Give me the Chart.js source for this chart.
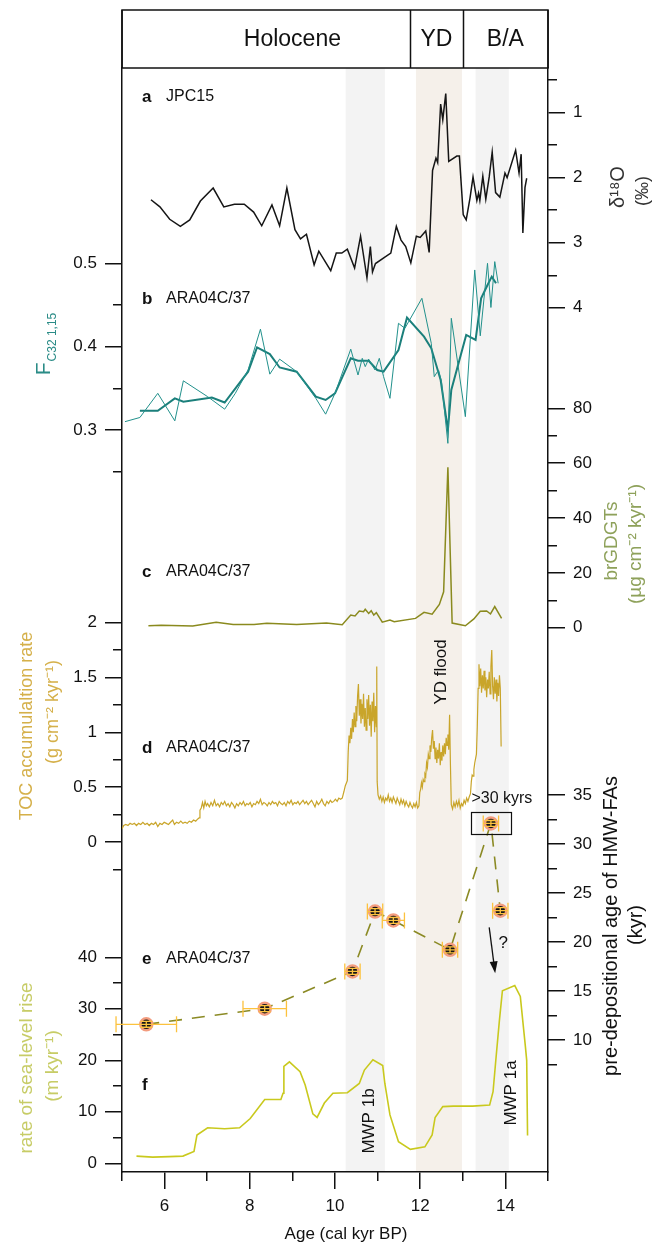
<!DOCTYPE html>
<html>
<head>
<meta charset="utf-8">
<title>ARA04C/37 deglacial records</title>
<script src="https://cdn.jsdelivr.net/npm/chart.js@4.4.1/dist/chart.umd.min.js"></script>
<style>
  html, body { margin: 0; padding: 0; background: #fff; }
  #wrap { width: 665px; height: 1245px; }
</style>
</head>
<body>
<div id="wrap"><canvas id="records" width="665" height="1245"></canvas></div>
<script>
// ---- data: [age (cal kyr BP), value] ----

// a: JPC15 d18O (permil)
const jpcD18O = [
  [5.68, 2.34], [5.89, 2.45], [6.12, 2.64], [6.37, 2.75], [6.59, 2.65], [6.84, 2.36],
  [7.14, 2.16], [7.39, 2.45], [7.64, 2.41], [7.87, 2.41], [8.09, 2.53], [8.28, 2.74],
  [8.52, 2.42], [8.70, 2.74], [8.87, 2.16], [9.06, 2.80], [9.19, 2.94], [9.33, 2.87],
  [9.51, 3.34], [9.62, 3.13], [9.90, 3.43], [10.03, 3.16], [10.16, 3.16], [10.29, 3.10],
  [10.46, 3.39], [10.60, 2.90], [10.75, 3.54], [10.83, 3.06], [10.88, 3.45], [10.95, 3.32],
  [11.17, 3.22], [11.31, 3.16], [11.44, 2.75], [11.55, 2.96], [11.66, 3.06], [11.78, 3.31],
  [11.91, 2.90], [12.00, 2.92], [12.13, 2.82], [12.21, 3.15], [12.29, 1.89], [12.37, 1.70],
  [12.41, 1.77], [12.48, 0.87], [12.53, 1.11], [12.60, 0.71], [12.67, 1.75], [12.86, 1.67],
  [12.92, 1.67], [13.01, 2.57], [13.08, 2.65], [13.17, 2.31], [13.24, 1.99], [13.33, 2.35],
  [13.37, 2.24], [13.40, 2.35], [13.47, 1.98], [13.54, 2.33], [13.62, 1.99], [13.69, 1.61],
  [13.77, 2.23], [13.87, 2.30], [13.99, 1.93], [14.04, 2.00], [14.24, 1.58], [14.32, 1.93],
  [14.37, 1.64], [14.41, 2.85], [14.46, 2.15], [14.50, 2.01]
];

// b: F C32 1,15, single samples and running mean
const fRaw = [
  [5.07, 0.310], [5.42, 0.315], [5.84, 0.344], [6.24, 0.311], [6.44, 0.359], [7.01, 0.340],
  [7.41, 0.325], [7.66, 0.344], [7.96, 0.372], [8.25, 0.421], [8.47, 0.367], [8.70, 0.385],
  [9.10, 0.370], [9.55, 0.338], [9.78, 0.319], [10.00, 0.344], [10.37, 0.397], [10.54, 0.366],
  [10.64, 0.386], [10.71, 0.376], [10.79, 0.385], [10.87, 0.378], [10.94, 0.372], [11.04, 0.386],
  [11.14, 0.364], [11.29, 0.338], [11.49, 0.428], [11.64, 0.422], [12.04, 0.458], [12.26, 0.404],
  [12.33, 0.364], [12.43, 0.372], [12.50, 0.358], [12.65, 0.284], [12.73, 0.434], [13.06, 0.316],
  [13.28, 0.492], [13.41, 0.413], [13.58, 0.500], [13.66, 0.447], [13.75, 0.502], [13.83, 0.476]
];
const fMean = [
  [5.42, 0.323], [5.84, 0.323], [6.24, 0.338], [6.44, 0.334], [7.11, 0.339], [7.41, 0.333],
  [7.96, 0.370], [8.17, 0.399], [8.47, 0.391], [8.70, 0.375], [9.10, 0.370], [9.55, 0.340],
  [9.78, 0.336], [10.00, 0.344], [10.37, 0.386], [10.54, 0.383], [10.79, 0.383], [10.99, 0.372],
  [11.14, 0.370], [11.49, 0.396], [11.69, 0.435], [12.09, 0.412], [12.26, 0.398], [12.48, 0.360],
  [12.65, 0.300], [12.73, 0.348], [13.08, 0.414], [13.30, 0.408], [13.43, 0.458], [13.58, 0.474],
  [13.68, 0.484], [13.78, 0.476]
];

// c: brGDGT accumulation (ug cm-2 kyr-1)
const brFlux = [
  [5.62, 0.7], [5.92, 0.9], [6.66, 0.6], [7.21, 2.0], [7.61, 1.2], [8.10, 1.2], [8.40, 1.6],
  [9.10, 1.2], [9.80, 1.7], [10.17, 1.1], [10.37, 4.6], [10.47, 4.3], [10.57, 6.1], [10.67, 5.8],
  [10.71, 6.7], [10.79, 5.2], [10.85, 6.2], [10.91, 4.6], [10.97, 5.5], [11.11, 2.0], [11.29, 2.8],
  [11.39, 2.2], [11.89, 3.4], [12.09, 5.6], [12.28, 4.9], [12.45, 8.5], [12.55, 13.1], [12.65, 58.5],
  [12.75, 1.7], [13.06, 0.7], [13.26, 3.2], [13.41, 6.0], [13.56, 6.1], [13.65, 5.0], [13.75, 7.7],
  [13.91, 3.4]
];

// d: TOC accumulation rate (g cm-2 kyr-1)
const tocRate = [
  [5.00, 0.12], [5.04, 0.15], [5.09, 0.16], [5.14, 0.15], [5.19, 0.17], [5.24, 0.16], [5.29, 0.17],
  [5.34, 0.15], [5.39, 0.17], [5.44, 0.16], [5.49, 0.18], [5.54, 0.16], [5.59, 0.17], [5.64, 0.15],
  [5.69, 0.17], [5.74, 0.16], [5.79, 0.18], [5.84, 0.14], [5.89, 0.17], [5.94, 0.16], [5.99, 0.18],
  [6.04, 0.17], [6.09, 0.16], [6.14, 0.18], [6.19, 0.20], [6.23, 0.16], [6.28, 0.18], [6.33, 0.17],
  [6.38, 0.19], [6.43, 0.17], [6.48, 0.18], [6.53, 0.17], [6.58, 0.19], [6.63, 0.18], [6.68, 0.20],
  [6.73, 0.19], [6.78, 0.21], [6.81, 0.22], [6.83, 0.29], [6.86, 0.31], [6.89, 0.36], [6.92, 0.31],
  [6.95, 0.37], [6.98, 0.33], [7.01, 0.35], [7.05, 0.32], [7.09, 0.36], [7.13, 0.33], [7.17, 0.38],
  [7.21, 0.33], [7.25, 0.35], [7.29, 0.32], [7.33, 0.36], [7.37, 0.34], [7.41, 0.37], [7.45, 0.33],
  [7.49, 0.35], [7.53, 0.32], [7.57, 0.36], [7.61, 0.34], [7.65, 0.31], [7.69, 0.35], [7.73, 0.33],
  [7.77, 0.36], [7.81, 0.34], [7.85, 0.37], [7.89, 0.33], [7.93, 0.35], [7.97, 0.34], [8.01, 0.36],
  [8.05, 0.32], [8.09, 0.35], [8.13, 0.34], [8.17, 0.37], [8.21, 0.35], [8.25, 0.39], [8.29, 0.34],
  [8.33, 0.36], [8.37, 0.35], [8.41, 0.33], [8.45, 0.36], [8.49, 0.34], [8.53, 0.37], [8.57, 0.35],
  [8.61, 0.36], [8.65, 0.33], [8.69, 0.37], [8.73, 0.35], [8.77, 0.34], [8.81, 0.36], [8.85, 0.33],
  [8.89, 0.37], [8.93, 0.35], [8.97, 0.38], [9.01, 0.34], [9.05, 0.36], [9.09, 0.35], [9.13, 0.37],
  [9.17, 0.34], [9.21, 0.36], [9.25, 0.38], [9.29, 0.35], [9.33, 0.37], [9.37, 0.34], [9.41, 0.36],
  [9.45, 0.38], [9.49, 0.35], [9.53, 0.32], [9.57, 0.37], [9.61, 0.34], [9.65, 0.36], [9.69, 0.39],
  [9.73, 0.35], [9.77, 0.33], [9.81, 0.37], [9.85, 0.35], [9.89, 0.38], [9.93, 0.36], [9.97, 0.37],
  [10.01, 0.39], [10.05, 0.37], [10.09, 0.40], [10.13, 0.39], [10.17, 0.40], [10.21, 0.46],
  [10.24, 0.51], [10.27, 0.54], [10.29, 0.56], [10.31, 0.82], [10.33, 0.97], [10.35, 0.90],
  [10.37, 1.04], [10.39, 0.94], [10.41, 1.12], [10.43, 1.00], [10.45, 1.18], [10.47, 1.05],
  [10.49, 1.24], [10.51, 1.10], [10.53, 1.33], [10.55, 1.44], [10.57, 1.15], [10.59, 1.30],
  [10.61, 1.08], [10.63, 1.26], [10.65, 1.12], [10.67, 1.35], [10.69, 1.05], [10.71, 1.22],
  [10.73, 1.02], [10.75, 1.30], [10.77, 1.12], [10.79, 1.34], [10.81, 1.06], [10.83, 1.25],
  [10.85, 0.96], [10.87, 1.28], [10.89, 1.10], [10.91, 1.36], [10.93, 1.00], [10.95, 1.24],
  [10.97, 1.05], [10.98, 1.60], [10.99, 0.55], [11.01, 0.43], [11.04, 0.39], [11.07, 0.42],
  [11.10, 0.37], [11.13, 0.41], [11.16, 0.36], [11.19, 0.40], [11.22, 0.38], [11.25, 0.43],
  [11.28, 0.37], [11.31, 0.40], [11.34, 0.36], [11.37, 0.41], [11.40, 0.38], [11.43, 0.35],
  [11.46, 0.40], [11.49, 0.37], [11.52, 0.34], [11.55, 0.39], [11.58, 0.35], [11.61, 0.38],
  [11.64, 0.33], [11.67, 0.37], [11.70, 0.34], [11.73, 0.32], [11.76, 0.36], [11.79, 0.33],
  [11.82, 0.31], [11.85, 0.35], [11.88, 0.32], [11.91, 0.36], [11.94, 0.31], [11.97, 0.33],
  [11.99, 0.45], [12.01, 0.48], [12.03, 0.54], [12.05, 0.50], [12.07, 0.57], [12.09, 0.55],
  [12.11, 0.62], [12.13, 0.60], [12.15, 0.72], [12.17, 0.68], [12.19, 0.80], [12.21, 0.76],
  [12.23, 0.88], [12.25, 0.82], [12.27, 0.95], [12.29, 1.02], [12.31, 0.85], [12.33, 0.92],
  [12.35, 0.76], [12.37, 0.86], [12.39, 0.72], [12.41, 0.84], [12.43, 0.76], [12.45, 0.90],
  [12.47, 0.70], [12.49, 0.82], [12.51, 0.74], [12.53, 0.88], [12.55, 0.78], [12.57, 0.90],
  [12.59, 0.80], [12.61, 0.95], [12.63, 0.88], [12.65, 0.98], [12.67, 0.84], [12.69, 1.16],
  [12.71, 0.70], [12.73, 0.34], [12.76, 0.30], [12.79, 0.36], [12.82, 0.32], [12.85, 0.37],
  [12.88, 0.33], [12.91, 0.38], [12.94, 0.31], [12.97, 0.35], [13.00, 0.33], [13.03, 0.38],
  [13.06, 0.35], [13.09, 0.40], [13.12, 0.37], [13.15, 0.41], [13.18, 0.44], [13.20, 0.55],
  [13.22, 0.61], [13.24, 0.60], [13.26, 0.66], [13.28, 0.72], [13.30, 0.76], [13.32, 0.80],
  [13.34, 1.05], [13.36, 1.40], [13.38, 1.62], [13.40, 1.42], [13.42, 1.58], [13.44, 1.36],
  [13.46, 1.52], [13.48, 1.40], [13.50, 1.56], [13.52, 1.38], [13.54, 1.50], [13.56, 1.32],
  [13.58, 1.48], [13.60, 1.40], [13.62, 1.55], [13.64, 1.35], [13.66, 1.60], [13.68, 1.75],
  [13.70, 1.42], [13.72, 1.30], [13.74, 1.50], [13.76, 1.35], [13.78, 1.48], [13.80, 1.28],
  [13.82, 1.45], [13.84, 1.33], [13.86, 1.52], [13.88, 1.40], [13.90, 0.87]
];

// e: pre-depositional age of HMW-FAs (kyr) with 1-sigma errors
const faAge    = [5.57, 8.35, 10.41, 10.94, 11.37, 12.70, 13.66, 13.88];
const faAgeErr = [0.71, 0.51, 0.18, 0.18, 0.26, 0.18, 0.18, 0.18];
const faPreAge = [11.6, 13.2, 17.0, 23.1, 22.2, 19.2, 32.1, 23.2];
const faPreErr = [0.3, 0.3, 0.3, 0.3, 0.3, 0.3, 0.3, 0.3];
const faBoxed  = 6;   // sample shown as >30 kyrs

// f: rate of sea-level rise (m kyr-1)
const seaLevel = [
  [5.34, 1.4], [5.72, 1.2], [6.11, 1.3], [6.43, 1.4], [6.69, 2.3], [6.76, 5.5], [7.01, 6.9],
  [7.41, 6.7], [7.76, 6.9], [8.01, 8.7], [8.35, 12.4], [8.73, 12.4], [8.78, 13.6], [8.80, 18.8],
  [8.93, 19.7], [9.18, 17.8], [9.30, 15.2], [9.48, 9.6], [9.58, 8.9], [9.75, 11.7], [9.95, 13.6],
  [10.29, 13.7], [10.57, 15.5], [10.69, 18.1], [10.89, 20.1], [11.12, 19.0], [11.17, 15.5],
  [11.29, 9.4], [11.49, 4.2], [11.77, 2.7], [12.11, 3.2], [12.28, 5.5], [12.35, 8.9], [12.53, 11.0],
  [12.78, 11.1], [13.23, 11.1], [13.63, 11.3], [13.71, 13.9], [13.78, 20.5], [13.86, 27.8],
  [13.93, 33.5], [14.22, 34.5], [14.35, 32.4], [14.47, 22.6], [14.50, 20.0], [14.52, 5.4]
];

// time frame
const periods     = ['Holocene', 'YD', 'B/A'];
const periodEdges = [11.76, 13.0];
const periodMid   = [9.0, 12.38, 14.0];
const bandFrom    = [10.25, 11.9, 13.3];
const bandTo      = [11.17, 12.98, 14.08];
const bandKind    = ['grey', 'yd', 'grey'];

// tick values per axis
const xMajor = [6, 8, 10, 12, 14];
const xMinor = [5, 7, 9, 11, 13, 15];
const aMajor = [1, 2, 3, 4],            aMinor = [0.5, 1.5, 2.5, 3.5];
const bMajor = [0.3, 0.4, 0.5],         bMinor = [0.25, 0.35, 0.45];
const cMajor = [0, 20, 40, 60, 80],     cMinor = [10, 30, 50, 70];
const dMajor = [0, 0.5, 1, 1.5, 2],     dMinor = [-0.25, 0.25, 0.75, 1.25, 1.75];
const eMajor = [10, 15, 20, 25, 30, 35], eMinor = [7.5, 12.5, 17.5, 22.5, 27.5, 32.5];
const fMajor = [0, 10, 20, 30, 40],     fMinor = [5, 15, 25, 35];

// ---- layout ----
const FONT = "'Liberation Sans', Arial, Helvetica, sans-serif";
Chart.defaults.font.family = FONT;
Chart.defaults.color = '#111';

const AREA = { left: 122, right: 548, top: 68, bottom: 1172 };
const INK = '#111';

// every panel shares the full plot height; each axis is pinned by two value/pixel pairs
function pin(v1, p1, v2, p2) {
  const k = (p2 - p1) / (v2 - v1);
  const atTop = v1 + (AREA.top - p1) / k;
  const atBottom = v1 + (AREA.bottom - p1) / k;
  return { min: Math.min(atTop, atBottom), max: Math.max(atTop, atBottom), reverse: atTop < atBottom };
}

function yAxis(side, range, values, labelled, withBorder) {
  return {
    type: 'linear', axis: 'y', position: side, bounds: 'data',
    min: range.min, max: range.max, reverse: range.reverse,
    afterBuildTicks: s => { s.ticks = values.map(v => ({ value: v })); },
    afterFit: s => { s.width = 0; },
    grid: { drawOnChartArea: false, tickLength: labelled ? 17 : 9, color: INK, lineWidth: 1.5 },
    border: { display: withBorder, color: INK, width: 1.5 },
    ticks: { display: labelled, autoSkip: false, padding: 8, color: INK, font: { size: 17 }, callback: v => String(v) }
  };
}

function xAxis(values, labelled, height, weight) {
  return {
    type: 'linear', axis: 'x', position: 'bottom', bounds: 'data', min: 5, max: 15, weight,
    afterBuildTicks: s => { s.ticks = values.map(v => ({ value: v })); },
    afterFit: s => { s.height = height; },
    grid: { drawOnChartArea: false, tickLength: labelled ? 17 : 9, color: INK, lineWidth: 1.5 },
    border: { display: labelled, color: INK, width: 1.5 },
    ticks: { display: labelled, autoSkip: false, maxRotation: 0, padding: 7, color: INK, font: { size: 17 }, callback: v => String(v) }
  };
}

const rangeA = pin(1, 112.5, 3, 242.7);
const rangeB = pin(0.5, 263.3, 0.3, 430);
const rangeC = pin(0, 627.7, 80, 408.3);
const rangeD = pin(0, 842, 2, 622.5);
const rangeE = pin(10, 1040, 35, 795);
const rangeF = pin(0, 1163.3, 40, 957.3);

const asPoints = rows => rows.map(([x, y]) => ({ x, y }));
const line = (rows, axis, color, width, extra) => Object.assign({
  data: asPoints(rows), xAxisID: 'x', yAxisID: axis, borderColor: color, borderWidth: width,
  pointRadius: 0, tension: 0, fill: false
}, extra || {});

const faPoints = faAge.map((x, i) => [x, faPreAge[i]]);

// ---- drawing helpers ----
function turned(ctx, text, x, y, size, color) {
  ctx.save();
  ctx.translate(x, y);
  ctx.rotate(-Math.PI / 2);
  ctx.font = size + 'px ' + FONT;
  ctx.fillStyle = color;
  ctx.textAlign = 'center';
  ctx.textBaseline = 'middle';
  ctx.fillText(text, 0, 0);
  ctx.restore();
}

function flat(ctx, text, x, y, font, color, align) {
  ctx.font = font;
  ctx.fillStyle = color || INK;
  ctx.textAlign = align || 'left';
  ctx.textBaseline = 'middle';
  ctx.fillText(text, x, y);
}

// zero-width y axes are stacked on the spines; widen their boxes so tick labels are not clipped
const axisBoxes = {
  id: 'axisBoxes',
  afterLayout(chart) {
    const ca = chart.chartArea;
    Object.values(chart.scales).forEach(s => {
      if (s.options.position === 'left') { s.left = 0; s.right = ca.left; }
      if (s.options.position === 'right') { s.left = ca.right; s.right = chart.width; }
    });
  }
};

const backdrop = {
  id: 'backdrop',
  beforeDraw(chart) {
    const { ctx, chartArea: ca, scales: { x } } = chart;
    ctx.save();
    ctx.fillStyle = '#fff';
    ctx.fillRect(0, 0, chart.width, chart.height);
    bandFrom.forEach((from, i) => {
      const x0 = x.getPixelForValue(from), x1 = x.getPixelForValue(bandTo[i]);
      ctx.fillStyle = bandKind[i] === 'yd' ? '#f5f0ea' : '#f3f3f3';
      ctx.fillRect(x0, ca.top, x1 - x0, ca.bottom - ca.top);
    });
    ctx.restore();
  }
};

const errorBars = {
  id: 'errorBars',
  afterDatasetsDraw(chart) {
    const { ctx, scales: { x, e } } = chart;
    ctx.save();
    ctx.strokeStyle = '#fcc23e';
    ctx.lineWidth = 1.3;
    faAge.forEach((age, i) => {
      const px = x.getPixelForValue(age), py = e.getPixelForValue(faPreAge[i]);
      const xl = x.getPixelForValue(age - faAgeErr[i]), xr = x.getPixelForValue(age + faAgeErr[i]);
      const yt = e.getPixelForValue(faPreAge[i] + faPreErr[i]), yb = e.getPixelForValue(faPreAge[i] - faPreErr[i]);
      ctx.beginPath();
      ctx.moveTo(xl, py); ctx.lineTo(xr, py);
      ctx.moveTo(xl, py - 8); ctx.lineTo(xl, py + 8);
      ctx.moveTo(xr, py - 8); ctx.lineTo(xr, py + 8);
      ctx.moveTo(px, yt); ctx.lineTo(px, yb);
      ctx.moveTo(px - 6, yt); ctx.lineTo(px + 6, yt);
      ctx.moveTo(px - 6, yb); ctx.lineTo(px + 6, yb);
      ctx.stroke();
    });
    ctx.restore();
  }
};

const annotations = {
  id: 'annotations',
  afterDraw(chart) {
    const { ctx, chartArea: ca, scales: { x, e } } = chart;
    ctx.save();

    // period header
    ctx.strokeStyle = INK;
    ctx.lineWidth = 1.5;
    ctx.strokeRect(ca.left, 10, ca.right - ca.left, ca.top - 10);
    ctx.beginPath();
    periodEdges.forEach(edge => {
      const px = Math.round(x.getPixelForValue(edge)) + 0.5;
      ctx.moveTo(px, 10); ctx.lineTo(px, ca.top);
    });
    ctx.stroke();
    periods.forEach((name, i) => {
      flat(ctx, name, x.getPixelForValue(periodMid[i]), 40, '23px ' + FONT, INK, 'center');
    });

    // panel tags
    const tags = [['a', 'JPC15', 97], ['b', 'ARA04C/37', 299], ['c', 'ARA04C/37', 572],
                  ['d', 'ARA04C/37', 748], ['e', 'ARA04C/37', 959], ['f', '', 1085]];
    tags.forEach(([letter, core, y]) => {
      flat(ctx, letter, 142, y, 'bold 17px ' + FONT);
      if (core) flat(ctx, core, 166, y, '16px ' + FONT);
    });

    // left axis titles
    ctx.save();
    ctx.translate(42, 344);
    ctx.rotate(-Math.PI / 2);
    ctx.fillStyle = '#2b8c87';
    ctx.textBaseline = 'alphabetic';
    ctx.textAlign = 'left';
    ctx.font = '21px ' + FONT;
    const wF = ctx.measureText('F').width;
    ctx.font = '12px ' + FONT;
    const wSub = ctx.measureText('C32 1,15').width;
    const start = -(wF + 1 + wSub) / 2;
    ctx.font = '21px ' + FONT;
    ctx.fillText('F', start, 8);
    ctx.font = '12px ' + FONT;
    ctx.fillText('C32 1,15', start + wF + 1, 14);
    ctx.restore();

    turned(ctx, 'TOC accumulaltion rate', 27, 726, 18, '#d5b04a');
    turned(ctx, '(g cm\u207B\u00B2 kyr\u207B\u00B9)', 53, 712, 18, '#d5b04a');
    turned(ctx, 'rate of sea-level rise', 27, 1068, 19, '#c7cc66');
    turned(ctx, '(m kyr\u207B\u00B9)', 53, 1066, 19, '#c7cc66');

    // right axis titles
    turned(ctx, '\u03B4\u00B9\u2078O', 618, 187, 20, '#333');
    turned(ctx, '(\u2030)', 643, 191, 18, '#333');
    turned(ctx, 'brGDGTs', 612, 541, 19, '#8ea15a');
    turned(ctx, '(\u00B5g cm\u207B\u00B2 kyr\u207B\u00B9)', 636, 544, 19, '#8ea15a');
    turned(ctx, 'pre-depositional age of HMW-FAs', 611, 926, 20, INK);
    turned(ctx, '(kyr)', 636, 925, 20, INK);

    // event labels inside the bands
    turned(ctx, 'YD flood', 441, 672, 17, INK);
    turned(ctx, 'MWP 1b', 369, 1121, 17, INK);
    turned(ctx, 'MWP 1a', 511, 1093, 17, INK);

    // >30 kyr sample box
    const bx = x.getPixelForValue(faAge[faBoxed]), by = e.getPixelForValue(faPreAge[faBoxed]);
    ctx.strokeStyle = INK;
    ctx.lineWidth = 1.2;
    ctx.strokeRect(Math.round(bx - 20) + 0.5, Math.round(by - 11) + 0.5, 40, 22);
    flat(ctx, '>30 kyrs', bx + 11, by - 25, '16px ' + FONT, INK, 'center');

    // arrow towards the older MWP 1a sample
    const ax0 = x.getPixelForValue(13.62), ay0 = e.getPixelForValue(21.5);
    const ax1 = x.getPixelForValue(13.76), ay1 = e.getPixelForValue(16.8);
    const ang = Math.atan2(ay1 - ay0, ax1 - ax0);
    ctx.fillStyle = INK;
    ctx.lineWidth = 1.3;
    ctx.beginPath();
    ctx.moveTo(ax0, ay0);
    ctx.lineTo(ax1 - 9 * Math.cos(ang), ay1 - 9 * Math.sin(ang));
    ctx.stroke();
    ctx.beginPath();
    ctx.moveTo(ax1, ay1);
    ctx.lineTo(ax1 - 12 * Math.cos(ang) + 4 * Math.sin(ang), ay1 - 12 * Math.sin(ang) - 4 * Math.cos(ang));
    ctx.lineTo(ax1 - 12 * Math.cos(ang) - 4 * Math.sin(ang), ay1 - 12 * Math.sin(ang) + 4 * Math.cos(ang));
    ctx.closePath();
    ctx.fill();
    flat(ctx, '?', x.getPixelForValue(13.95), e.getPixelForValue(19.9), '17px ' + FONT, INK, 'center');

    // x axis title
    flat(ctx, 'Age (cal kyr BP)', 346, 1234, '17px ' + FONT, INK, 'center');

    // left and right spines run up through the header
    ctx.beginPath();
    ctx.lineWidth = 1.5;
    ctx.moveTo(ca.left, 10); ctx.lineTo(ca.left, ca.top);
    ctx.moveTo(ca.right, 10); ctx.lineTo(ca.right, ca.top);
    ctx.stroke();
    ctx.restore();
  }
};

new Chart(document.getElementById('records'), {
  type: 'line',
  data: {
    datasets: [
      line(faPoints, 'e', 'transparent', 0, {
        showLine: false, pointRadius: 6, pointBackgroundColor: '#161616',
        pointBorderColor: '#f39c7e', pointBorderWidth: 2.5, order: 0
      }),
      line(faPoints, 'e', '#8b8a24', 1.6, { borderDash: [13, 10], order: 1 }),
      line(jpcD18O, 'a', '#151515', 1.5, { order: 2 }),
      line(fRaw, 'b', '#22918c', 1, { order: 3 }),
      line(fMean, 'b', '#1b7f7b', 2, { order: 3 }),
      line(brFlux, 'c', '#8a8a1e', 1.5, { order: 4 }),
      line(tocRate, 'd', '#c9a52a', 1.2, { order: 4 }),
      line(seaLevel, 'f', '#c9c91d', 1.6, { order: 4 })
    ]
  },
  options: {
    responsive: false,
    maintainAspectRatio: false,
    devicePixelRatio: 1,
    animation: false,
    events: [],
    layout: { padding: { left: AREA.left, right: 665 - AREA.right, top: AREA.top, bottom: 0 } },
    plugins: { legend: { display: false }, tooltip: { enabled: false }, title: { display: false } },
    scales: {
      xm: xAxis(xMinor, false, 0, 0),
      x: xAxis(xMajor, true, 1245 - AREA.bottom, 1),
      a: yAxis('right', rangeA, aMajor, true, true),
      am: yAxis('right', rangeA, aMinor, false, false),
      b: yAxis('left', rangeB, bMajor, true, true),
      bm: yAxis('left', rangeB, bMinor, false, false),
      c: yAxis('right', rangeC, cMajor, true, false),
      cm: yAxis('right', rangeC, cMinor, false, false),
      d: yAxis('left', rangeD, dMajor, true, false),
      dm: yAxis('left', rangeD, dMinor, false, false),
      e: yAxis('right', rangeE, eMajor, true, false),
      em: yAxis('right', rangeE, eMinor, false, false),
      f: yAxis('left', rangeF, fMajor, true, false),
      fm: yAxis('left', rangeF, fMinor, false, false)
    }
  },
  plugins: [axisBoxes, backdrop, errorBars, annotations]
});
</script>
</body>
</html>
